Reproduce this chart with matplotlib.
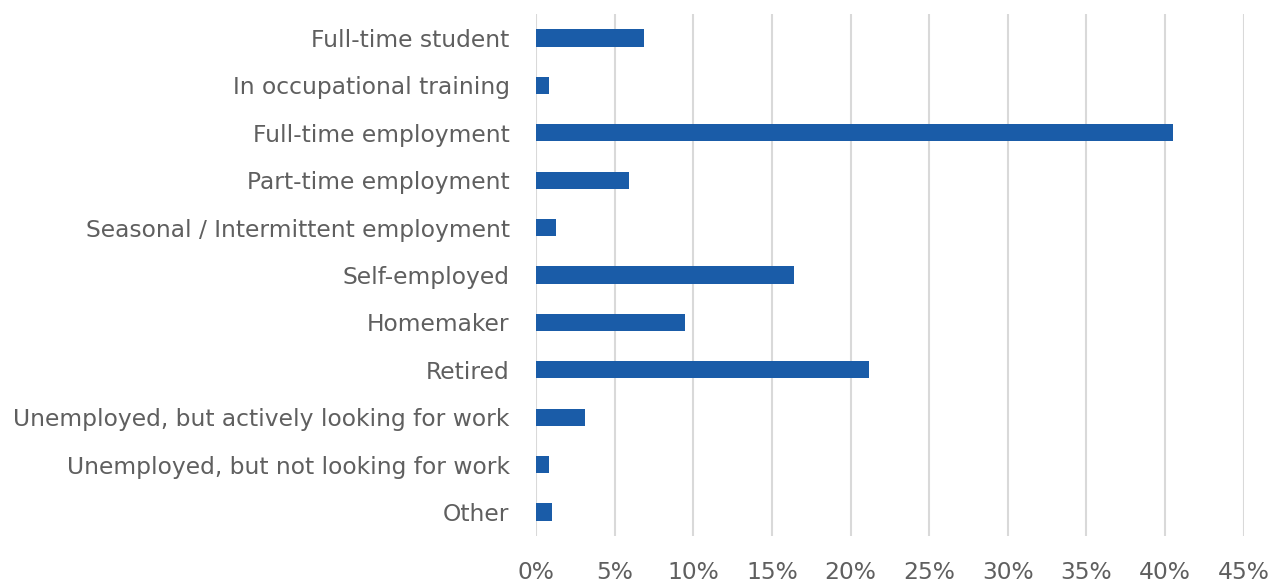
import matplotlib.pyplot as plt
from matplotlib.ticker import MultipleLocator, FuncFormatter

categories = [
    'Full-time student',
    'In occupational training',
    'Full-time employment',
    'Part-time employment',
    'Seasonal / Intermittent employment',
    'Self-employed',
    'Homemaker',
    'Retired',
    'Unemployed, but actively looking for work',
    'Unemployed, but not looking for work',
    'Other',
]
shares = [6.9, 0.8, 40.5, 5.9, 1.3, 16.4, 9.5, 21.2, 3.1, 0.8, 1.0]  # percent

plt.rcParams['font.family'] = ['DejaVu Sans']
text_color = '#5f5f5f'

fig = plt.figure(figsize=(12.71, 5.84), dpi=100)
ax = fig.add_axes([0.4217, 0.0827, 0.9785 - 0.4217, 0.9755 - 0.0827])

pos = list(range(len(categories)))
ax.barh(pos, shares, height=0.36, color='#1a5ca8', zorder=3)

ax.set_ylim(len(categories) - 0.5, -0.5)
ax.set_xlim(0, 45)
ax.set_yticks(pos)
ax.set_yticklabels(categories)
ax.xaxis.set_major_locator(MultipleLocator(5))
ax.xaxis.set_major_formatter(FuncFormatter(lambda v, _: f'{v:.0f}%'))

ax.grid(axis='x', color='#d9d9d9', linewidth=1.5, zorder=0)
for side in ['top', 'right', 'bottom', 'left']:
    ax.spines[side].set_visible(False)
ax.tick_params(axis='both', length=0, labelsize=16.8, labelcolor=text_color)
ax.tick_params(axis='y', pad=19)
ax.tick_params(axis='x', pad=18)

fig.savefig('out.png', dpi=100)
